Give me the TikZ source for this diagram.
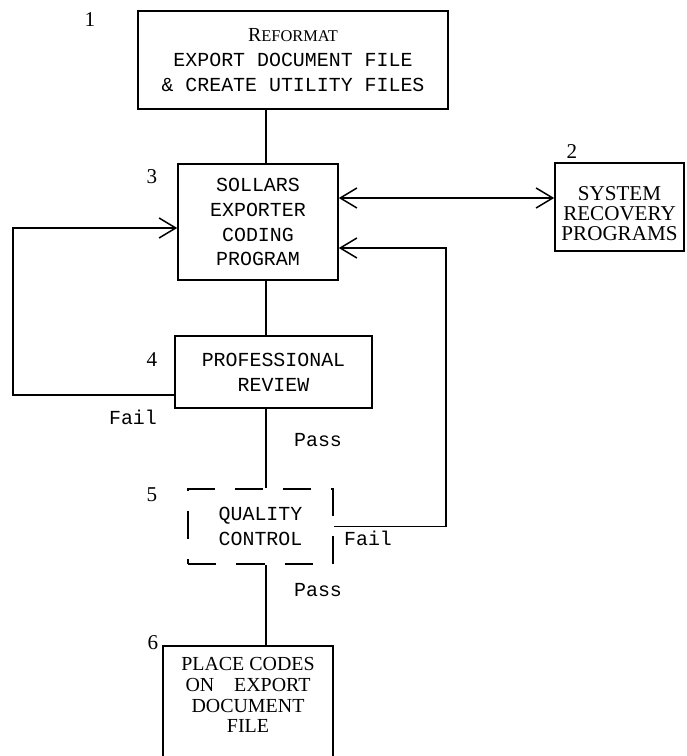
\documentclass[tikz,border=0pt]{standalone}
\usepackage{fontspec}
\setmainfont{Liberation Serif}
\newfontfamily\typefont{Liberation Mono}
\usetikzlibrary{arrows.meta}

\tikzset{barb/.tip={Straight Barb[length=5mm, width=6mm]}}

\begin{document}
\begin{tikzpicture}[x=0.03cm, y=-0.03cm, line width=1.3pt,
  box/.style={draw, inner sep=0pt, align=center,
    font=\typefont\fontsize{17}{21.3}\selectfont},
  serifbox/.style={box, font=\fontsize{18}{16.8}\selectfont},
  num/.style={font=\fontsize{18}{18}\selectfont},
  tag/.style={font=\typefont\fontsize{17}{20}\selectfont},
  flow/.style={-barb}]
  \useasboundingbox (0,0) rectangle (686,756);
  \clip (0,0) rectangle (686,756);
  % 各个处理框（像素坐标，y 向下）
  \node[box, minimum width=9.3cm, minimum height=2.94cm] (reformat) at (293,60)
    {{\rmfamily R\fontsize{14}{14}\selectfont EFORMAT}\\EXPORT DOCUMENT FILE\\\& CREATE UTILITY FILES};
  \node[serifbox, minimum width=3.87cm, text height=2.31cm, text depth=0.33cm] (recovery) at (619.5,207)
    {SYSTEM\\RECOVERY\\PROGRAMS};
  \node[box, minimum width=4.8cm, minimum height=3.48cm] (coding) at (258,222)
    {SOLLARS\\EXPORTER\\CODING\\PROGRAM};
  \node[box, minimum width=5.91cm, minimum height=2.16cm] (review) at (273.5,372)
    {PROFESSIONAL\\REVIEW};
  \node[box, dash pattern=on 0.85cm off 0.6cm, minimum width=4.35cm, minimum height=2.25cm] (quality) at (260.5,526.5)
    {QUALITY\\CONTROL};
  \node[serifbox, font=\fontsize{17}{17.7}\selectfont, anchor=north, minimum width=5.1cm,
    text height=2.61cm, text depth=1.14cm] (place) at (248,645)
    {PLACE CODES\\ON\quad EXPORT\\DOCUMENT\\FILE};
  % 编号
  \node[num] (n1) at (90,20) {1};
  \node[num] (n2) at (572,152) {2};
  \node[num] (n3) at (152,177) {3};
  \node[num] (n4) at (152,360) {4};
  \node[num] (n5) at (152,495) {5};
  \node[num] (n6) at (153,643) {6};
  % 判定标注
  \node[tag] (fail1) at (133,417) {Fail};
  \node[tag] (pass1) at (318,440) {Pass};
  \node[tag] (fail2) at (368,538) {Fail};
  \node[tag] (pass2) at (318,590) {Pass};
  % 连线
  \coordinate (spine) at (266,0);
  \coordinate (sys) at (450,198);
  \coordinate (failL) at (13,395);
  \coordinate (failT) at (13,228);
  \coordinate (failR) at (446,248);
  \draw (reformat.south -| spine) -- (coding.north -| spine);
  \draw (coding.south -| spine) -- (review.north -| spine);
  \draw (review.south -| spine) -- (quality.north -| spine);
  \draw (quality.south -| spine) -- (place.north -| spine);
  \draw[barb-barb] (coding.east |- sys) -- (recovery.west |- sys);
  \draw[flow] (review.west |- failL) -- (failL) -- (failT) -- (coding.west |- failT);
  \draw[flow] (quality.east) -- (quality.east -| failR) -- (failR) -- (coding.east |- failR);
\end{tikzpicture}
\end{document}
